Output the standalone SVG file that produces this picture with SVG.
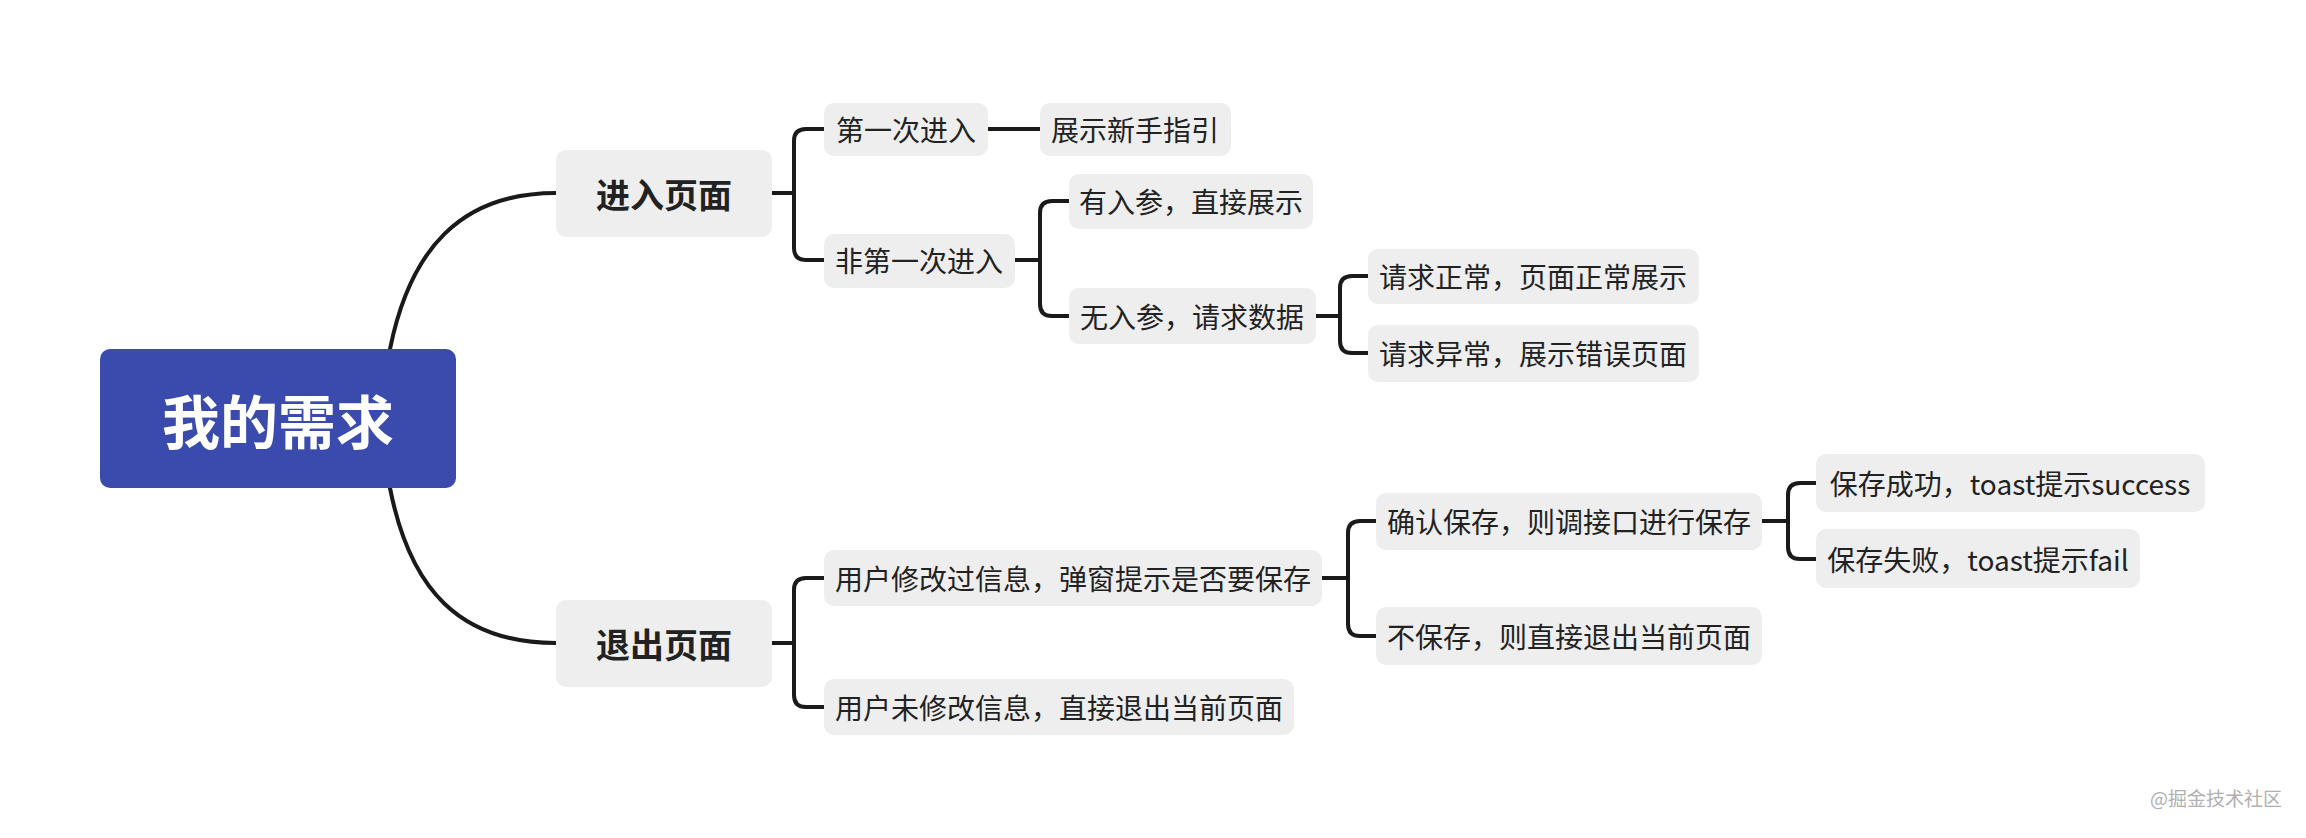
<svg xmlns="http://www.w3.org/2000/svg" width="2306" height="838" viewBox="0 0 2306 838">
<style>
.n rect{fill:#eeeeee}
.n text{font-family:"Noto Sans CJK SC","Liberation Sans",sans-serif;font-size:28px;fill:#222;text-anchor:middle;dominant-baseline:central}
.m text{font-size:34px;font-weight:bold}
.c path{fill:none;stroke:#1a1a1a;stroke-width:4;stroke-linecap:round}
</style>
<rect width="2306" height="838" fill="#fff"/>
<g class="c" id="connectors">
<path d="M390,349 C410,250 460,193 556,193" stroke-width="5"/>
<path d="M390,488 C410,590 460,643 556,643" stroke-width="5"/>
<path d="M772,193 H794 M824,129 H806 Q794,129 794,141 V248 Q794,260 806,260 H824"/>
<path d="M988,129 H1040"/>
<path d="M1015,260 H1040 M1069,201 H1052 Q1040,201 1040,213 V304 Q1040,316 1052,316 H1069"/>
<path d="M1316,316 H1340 M1368,276 H1352 Q1340,276 1340,288 V341 Q1340,353 1352,353 H1368"/>
<path d="M772,643 H794 M824,578 H806 Q794,578 794,590 V695 Q794,707 806,707 H824"/>
<path d="M1322,578 H1348 M1376,521 H1360 Q1348,521 1348,533 V624 Q1348,636 1360,636 H1376"/>
<path d="M1762,521 H1788 M1816,483 H1800 Q1788,483 1788,495 V547 Q1788,559 1800,559 H1816"/>
</g>
<g id="root"><rect x="100" y="349" width="356" height="139" rx="10" fill="#3a4bad"/><text x="278" y="419" font-family="Noto Sans CJK SC,sans-serif" font-size="58" font-weight="bold" fill="#fff" text-anchor="middle" dominant-baseline="central">我的需求</text></g>
<g id="enter" class="n m"><rect x="556" y="150" width="216" height="87" rx="10"/><text x="664" y="193">进入页面</text></g>
<g id="exit" class="n m"><rect x="556" y="600" width="216" height="87" rx="10"/><text x="664" y="643">退出页面</text></g>
<g id="first" class="n"><rect x="824" y="103" width="164" height="53" rx="10"/><text x="906" y="129">第一次进入</text></g>
<g id="guide" class="n"><rect x="1040" y="103" width="191" height="53" rx="10"/><text x="1135" y="129">展示新手指引</text></g>
<g id="notfirst" class="n"><rect x="824" y="234" width="191" height="54" rx="10"/><text x="919" y="260">非第一次进入</text></g>
<g id="hasparam" class="n"><rect x="1069" y="174" width="244" height="55" rx="10"/><text x="1191" y="201">有入参，直接展示</text></g>
<g id="noparam" class="n"><rect x="1069" y="288" width="247" height="56" rx="10"/><text x="1192" y="316">无入参，请求数据</text></g>
<g id="reqok" class="n"><rect x="1368" y="249" width="331" height="55" rx="10"/><text x="1533" y="276">请求正常，页面正常展示</text></g>
<g id="reqerr" class="n"><rect x="1368" y="325" width="331" height="57" rx="10"/><text x="1533" y="353">请求异常，展示错误页面</text></g>
<g id="modified" class="n"><rect x="824" y="550" width="498" height="56" rx="10"/><text x="1073" y="578">用户修改过信息，弹窗提示是否要保存</text></g>
<g id="unmodified" class="n"><rect x="824" y="679" width="470" height="56" rx="10"/><text x="1059" y="707">用户未修改信息，直接退出当前页面</text></g>
<g id="confirm" class="n"><rect x="1376" y="493" width="386" height="57" rx="10"/><text x="1569" y="521">确认保存，则调接口进行保存</text></g>
<g id="nosave" class="n"><rect x="1376" y="607" width="386" height="58" rx="10"/><text x="1569" y="636">不保存，则直接退出当前页面</text></g>
<g id="success" class="n"><rect x="1816" y="454" width="389" height="58" rx="10"/><text x="2010" y="483">保存成功，toast提示success</text></g>
<g id="fail" class="n"><rect x="1816" y="529" width="324" height="59" rx="10"/><text x="1978" y="559">保存失败，toast提示fail</text></g>
<text x="2282" y="806" font-family="Noto Sans CJK SC,sans-serif" font-size="19" fill="#b0b0b0" text-anchor="end">@掘金技术社区</text>
</svg>
